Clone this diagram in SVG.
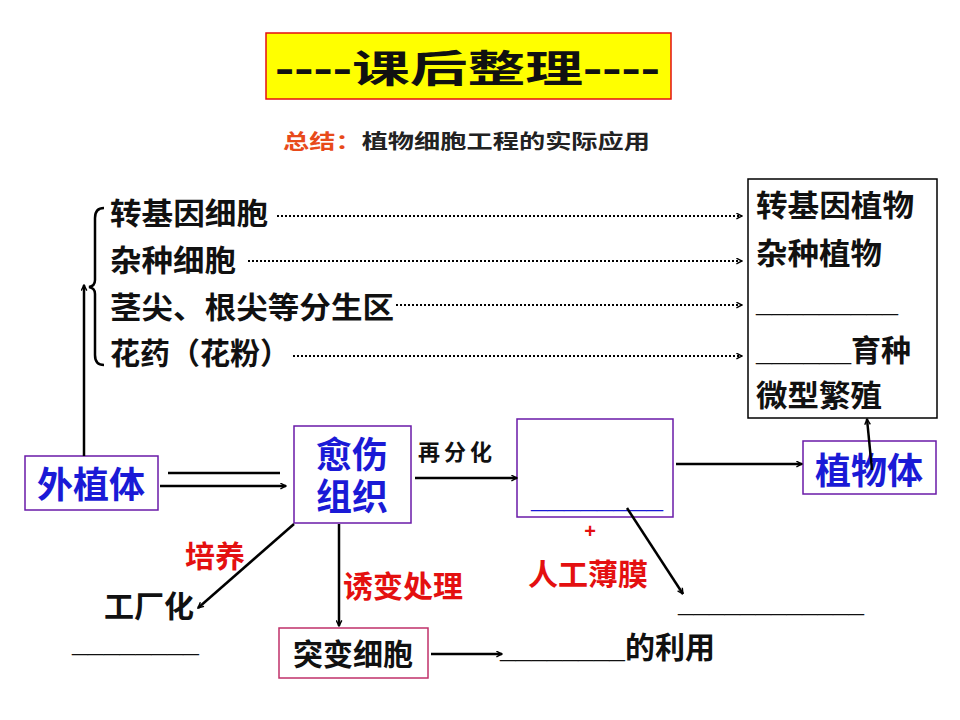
<svg xmlns="http://www.w3.org/2000/svg" width="960" height="720" viewBox="0 0 960 720">
<defs>
<style>
text{font-family:"Liberation Sans","Noto Sans CJK SC",sans-serif;font-weight:bold}
.k{fill:#111;font-size:30px}
.b{fill:#1a1ad6;font-size:36px}
.r{fill:#e41010;font-size:30px}
.ln{stroke:#000;stroke-width:2.5;fill:none}
.dot{stroke:#000;stroke-width:2;stroke-dasharray:2 2;fill:none}
.bx{fill:#fff;stroke:#6a1aa8;stroke-width:1.5}
</style>
<marker id="a" viewBox="0 0 10 10" refX="9" refY="5" markerWidth="7" markerHeight="7" orient="auto" markerUnits="userSpaceOnUse"><path d="M1,1 L9,5 L1,9" fill="none" stroke="#000" stroke-width="2"/></marker>
</defs>
<rect width="960" height="720" fill="#fff"/>
<g id="title"><rect x="266" y="33" width="405" height="66" fill="#ffff00" stroke="#e41010" stroke-width="1.5"/><text x="275" y="82" font-size="38" fill="#111" textLength="385" lengthAdjust="spacingAndGlyphs">----课后整理----</text></g>
<g id="subtitle"><text x="283" y="149" font-size="20" textLength="367" lengthAdjust="spacingAndGlyphs"><tspan fill="#e84a1a">总结：</tspan><tspan fill="#222">植物细胞工程的实际应用</tspan></text></g>
<g id="sources">
<path class="ln" d="M104,208 Q95,208 95,218 L95,280 Q95,286 89,287 Q95,288 95,294 L95,355 Q95,365 104,365" stroke-width="2"/>
<text class="k" x="110" y="224" textLength="158" lengthAdjust="spacingAndGlyphs">转基因细胞</text>
<text class="k" x="110" y="271" textLength="126" lengthAdjust="spacingAndGlyphs">杂种细胞</text>
<text class="k" x="110" y="318" textLength="284" lengthAdjust="spacingAndGlyphs">茎尖、根尖等分生区</text>
<text class="k" x="110" y="364" textLength="180" lengthAdjust="spacingAndGlyphs">花药（花粉）</text>
</g>
<g id="results"><rect x="748" y="179" width="189" height="239" fill="#fff" stroke="#000" stroke-width="1.5"/>
<text class="k" x="756" y="216" textLength="158" lengthAdjust="spacingAndGlyphs">转基因植物</text>
<text class="k" x="756" y="264" textLength="126" lengthAdjust="spacingAndGlyphs">杂种植物</text>
<text class="k" x="756" y="312" textLength="142" lengthAdjust="spacingAndGlyphs">_________</text>
<text class="k" x="756" y="361"><tspan textLength="95" lengthAdjust="spacingAndGlyphs">______</tspan>育种</text>
<text class="k" x="756" y="406" textLength="126" lengthAdjust="spacingAndGlyphs">微型繁殖</text></g>
<g id="waizhiti"><rect class="bx" x="25" y="456" width="133" height="54"/><text class="b" x="91" y="498" text-anchor="middle">外植体</text></g>
<g id="yushang"><rect class="bx" x="294" y="426" width="117" height="97"/><text class="b" x="352" y="468" text-anchor="middle" font-size="33">愈伤</text><text class="b" x="352" y="510" text-anchor="middle" font-size="33">组织</text></g>
<g id="middle"><rect class="bx" x="517" y="419" width="156" height="98"/><text x="531" y="508" font-size="27" fill="#1a1ad6" textLength="132" lengthAdjust="spacingAndGlyphs">________</text></g>
<g id="zhiwuti"><rect class="bx" x="803" y="441" width="133" height="53"/><text class="b" x="869" y="484" text-anchor="middle">植物体</text></g>
<g id="tubian"><rect x="279" y="628" width="149" height="50" fill="#fff" stroke="#c0306a" stroke-width="1.5"/><text class="k" x="353" y="665" text-anchor="middle" font-size="31">突变细胞</text></g>
<g id="labels">
<text x="418" y="460" font-size="22" fill="#111" font-weight="normal" letter-spacing="4">再分化</text>
<text x="590" y="538" font-size="20" fill="#e41010" text-anchor="middle">+</text>
<text class="r" x="528" y="585" font-size="31">人工薄膜</text>
<text x="678" y="612" font-size="27" fill="#111" textLength="186" lengthAdjust="spacingAndGlyphs">____________</text>
<text class="r" x="185" y="567">培养</text>
<text class="k" x="104" y="617" font-size="31">工厂化</text>
<text x="72" y="652" font-size="27" fill="#111" textLength="127" lengthAdjust="spacingAndGlyphs">________</text>
<text class="r" x="343" y="597" font-size="31">诱变处理</text>
<text x="500" y="658" font-size="30" fill="#111"><tspan textLength="125" lengthAdjust="spacingAndGlyphs">________</tspan>的利用</text>
</g>
<g id="connectors">
<path class="dot" d="M277,216 H742" marker-end="url(#a)"/>
<path class="dot" d="M248,261 H742" marker-end="url(#a)"/>
<path class="dot" d="M396,305 H742" marker-end="url(#a)"/>
<path class="dot" d="M293,356 H742" marker-end="url(#a)"/>
<path class="ln" d="M84,456 V285" marker-end="url(#a)"/>
<path class="ln" d="M168,473 H280"/>
<path class="ln" d="M160,486 H286" marker-end="url(#a)"/>
<path class="ln" d="M415,478 H517" marker-end="url(#a)"/>
<path class="ln" d="M676,464 H802" marker-end="url(#a)"/>
<path class="ln" d="M872,470 L867,419" marker-end="url(#a)" stroke-width="2"/>
<path class="ln" d="M627,508 L683,594" marker-end="url(#a)" stroke-width="2"/>
<path class="ln" d="M294,524 L198,608" marker-end="url(#a)" stroke-width="2"/>
<path class="ln" d="M339,524 V626" marker-end="url(#a)" stroke-width="2"/>
<path class="ln" d="M431,654 H502" marker-end="url(#a)"/>
</g>
</svg>
